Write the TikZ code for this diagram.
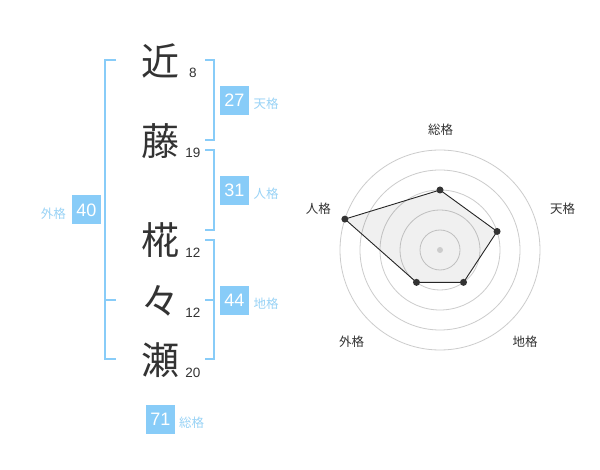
\documentclass[tikz,border=0pt]{standalone}
\usepackage{fontspec}
\setmainfont{Liberation Sans}
\newfontfamily\cjk{Noto Sans CJK JP}
\definecolor{kblue}{HTML}{88CCF8}
\definecolor{klabel}{HTML}{99D3F6}
\definecolor{kdark}{HTML}{333333}
\definecolor{kgrid}{HTML}{CCCCCC}
\begin{document}
\begin{tikzpicture}[x=1pt,y=-1pt,
  kanji/.style={font=\cjk\fontsize{38}{38}\selectfont, text=kdark, inner sep=0pt},
  strokes/.style={font=\fontsize{13.5}{14}\selectfont, text=kdark, inner sep=0pt},
  valbox/.style={fill=kblue, text=white, font=\fontsize{18}{18}\selectfont, minimum width=29pt, minimum height=29pt, inner sep=0pt},
  kaku/.style={font=\cjk\fontsize{12.5}{13}\selectfont, text=klabel, inner sep=0pt},
  bracket/.style={draw=kblue, line width=2pt},
  radarlbl/.style={font=\cjk\fontsize{12.5}{13}\selectfont, text=kdark, inner sep=0pt},
  gridring/.style={draw=kgrid, line width=0.8pt},
  dot/.style={circle, fill=kdark, inner sep=0pt, minimum size=7pt},
  poly/.style={draw=black!85, line width=0.9pt, fill=black, fill opacity=0.06}
]
\useasboundingbox (0,0) rectangle (600,470);
\fill[white] (0,0) rectangle (600,470);

% name characters
\node[kanji] (c1) at (160,61) {近};
\node[kanji] (c2) at (160,141) {藤};
\node[kanji] (c3) at (160,240) {椛};
\node[kanji] (c4) at (160,301) {々};
\node[kanji] (c5) at (160,360) {瀬};
\node[strokes] (n1) at (193,72.7) {8};
\node[strokes] (n2) at (193,152.7) {19};
\node[strokes] (n3) at (193,252.7) {12};
\node[strokes] (n4) at (193,312.7) {12};
\node[strokes] (n5) at (193,372.7) {20};

% brackets
\draw[bracket] (116,60) -- (105,60) -- (105,359) -- (116,359);
\draw[bracket] (105,300) -- (116,300);
\draw[bracket] (205,60) -- (214,60) -- (214,140) -- (205,140);
\draw[bracket] (205,150) -- (214,150) -- (214,230) -- (205,230);
\draw[bracket] (205,240) -- (214,240) -- (214,359) -- (205,359);
\draw[bracket] (205,300) -- (214,300);

% value boxes
\node[valbox] (v27) at (234.5,100.5) {27};
\node[valbox] (v31) at (234.5,190.5) {31};
\node[valbox] (v44) at (234.5,300.5) {44};
\node[valbox] (v40) at (86.5,210) {40};
\node[valbox] (v71) at (160.5,419.3) {71};
\node[kaku] (l27) at (266,104) {天格};
\node[kaku] (l31) at (266,194) {人格};
\node[kaku] (l44) at (266,304) {地格};
\node[kaku] (l40) at (53.3,214) {外格};
\node[kaku] (l71) at (191.7,422.3) {総格};

% radar chart
\coordinate (rc) at (440,250);
\foreach \r in {20,40,60,80,100} \draw[gridring] (rc) circle (\r);
\coordinate (ps) at (440,190);
\coordinate (pt) at (497.06,231.46);
\coordinate (pc) at (463.51,282.36);
\coordinate (pg) at (416.49,282.36);
\coordinate (pj) at (344.89,219.10);
\draw[poly] (ps) -- (pt) -- (pc) -- (pg) -- (pj) -- cycle;
\node[circle, fill=kgrid, inner sep=0pt, minimum size=6pt] (cdot) at (rc) {};
\foreach \p in {ps,pt,pc,pg,pj} \node[dot] (d\p) at (\p) {};
\node[radarlbl] (rs) at (440.7,130) {総格};
\node[radarlbl] (rt) at (562.7,208.3) {天格};
\node[radarlbl] (rcg) at (525,341.7) {地格};
\node[radarlbl] (rg) at (351.7,341.7) {外格};
\node[radarlbl] (rj) at (318.3,208.3) {人格};
\end{tikzpicture}
\end{document}
